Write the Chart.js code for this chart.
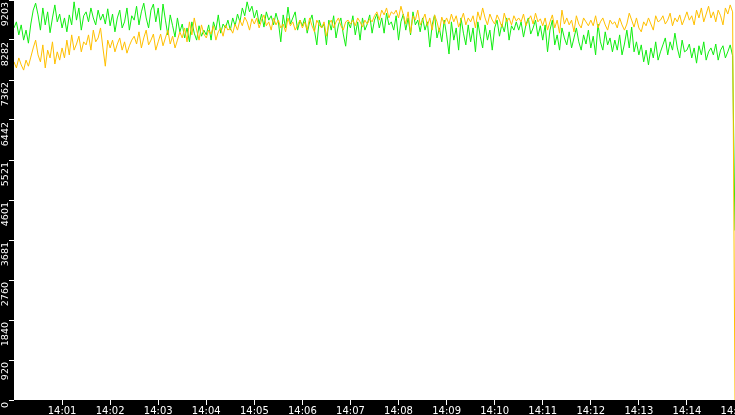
<!DOCTYPE html>
<html>
<head>
<meta charset="utf-8">
<script src="https://cdn.jsdelivr.net/npm/chart.js@4.4.1/dist/chart.umd.min.js"></script>
<style>
  html, body { margin: 0; padding: 0; background: #000; }
  #wrap { width: 735px; height: 415px; }
  canvas { display: block; background: #000; }
</style>
</head>
<body>
<div id="wrap"><canvas id="c" width="735" height="415"></canvas></div>
<script>
// ---- data ----
const sampleStepSeconds = 3;            // one sample every 3 s, starting 14:00:00

const greenValues = [
  8560, 8700, 8400, 8630, 8280, 8510, 8210, 8650, 8970, 9130,
  8860, 8510, 9020, 8630, 8930, 8450, 8790, 9090, 8700, 8880,
  8560, 8790, 8470, 8860, 8630, 9160, 8740, 9020, 8510, 8840,
  8930, 8700, 9020, 8790, 8630, 8970, 8740, 8880, 8650, 9000,
  8610, 8880, 8470, 8790, 8970, 8560, 8700, 9020, 8510, 8840,
  8740, 9060, 8630, 8930, 9130, 8790, 8560, 8970, 9110, 8700,
  9020, 8510, 9110, 8740, 8400, 8860, 8610, 8350, 8790, 8470,
  8650, 8330, 8560, 8240, 8700, 8440, 8280, 8610, 8370, 8510,
  8400, 8630, 8280, 8700, 8510, 8860, 8440, 8650, 8560, 8740,
  8510, 8790, 8610, 8880, 8700, 9020, 8840, 9160, 8930, 9060,
  8790, 8970, 8650, 8880, 8580, 8930, 8740, 8840, 8630, 8900,
  8700, 8240, 8860, 8560, 9040, 8650, 8790, 8930, 8510, 8740,
  8610, 8790, 8440, 8700, 8860, 8510, 8170, 8740, 8560, 8650,
  8170, 8740, 8510, 8840, 8330, 8630, 8790, 8420, 8140, 8700,
  8560, 8840, 8400, 8700, 8280, 8790, 8510, 8650, 8860, 8440,
  8740, 8880, 8560, 8790, 8440, 8900, 8630, 8700, 8510, 8840,
  8280, 8700, 8880, 8510, 8790, 8400, 8930, 8630, 8740, 8470,
  8790, 8510, 8700, 8120, 8630, 8860, 8330, 8560, 8240, 8740,
  8400, 7960, 8700, 8280, 8560, 8050, 8790, 8440, 8170, 8630,
  8240, 8560, 8010, 8700, 8370, 8100, 8630, 8280, 8510, 8050,
  8560, 8740, 8370, 8650, 8470, 8790, 8280, 8610, 8510, 8700,
  8510, 8700, 8350, 8630, 8790, 8420, 8560, 8740, 8370, 8610,
  8280, 8630, 8010, 8510, 8740, 8170, 8400, 8050, 8560, 8330,
  8170, 8470, 8100, 8330, 8560, 8240, 8050, 8400, 8190, 8510,
  8100, 8370, 7940, 8650, 8240, 8050, 8470, 8170, 8330, 8010,
  8280, 8050, 8400, 7940, 8190, 8510, 8100, 8580, 8010, 8240,
  7940, 8170, 7780, 8050, 7710, 8100, 7870, 8240, 7820, 8010,
  8170, 8330, 7940, 8240, 8050, 8440, 8100, 7870, 8280, 8010,
  8050, 8190, 7870, 8100, 7750, 8150, 7940, 8240, 7820, 8010,
  8100, 7940, 8190, 7820, 8050, 8150, 7870, 8010, 8170, 7920,
  3900
];

const orangeValues = [
  7780, 7640, 7870, 7710, 7590, 7820, 7680, 7890, 8100, 8280,
  7940, 7780, 8170, 7640, 8050, 7870, 8240, 7730, 8010, 7820,
  8100, 7870, 8280, 7940, 8400, 8050, 8190, 8370, 8010, 8240,
  8170, 8400, 8050, 8510, 8240, 8330, 8560, 8100, 7680, 8280,
  8100, 8280, 8010, 8190, 8330, 8050, 8240, 7980, 8150, 8280,
  8370, 8190, 8470, 8100, 8330, 8510, 8170, 8280, 8420, 8050,
  8240, 8420, 8150, 8330, 8510, 8190, 8370, 8100, 8280, 8470,
  8330, 8560, 8240, 8700, 8400, 8790, 8510, 8280, 8630, 8420,
  8330, 8510, 8420, 8610, 8280, 8470, 8560, 8370, 8630, 8510,
  8560, 8440, 8650, 8510, 8740, 8610, 8810, 8700, 8510, 8770,
  8650, 8790, 8560, 8740, 8860, 8610, 8700, 8510, 8790, 8630,
  8740, 8560, 8650, 8470, 8790, 8610, 8700, 8510, 8630, 8740,
  8560, 8700, 8510, 8790, 8610, 8470, 8740, 8630, 8560, 8700,
  8370, 8650, 8740, 8560, 8700, 8790, 8610, 8510, 8700, 8740,
  8650, 8740, 8610, 8790, 8700, 8580, 8740, 8650, 8770, 8700,
  8840, 8930, 8740, 8970, 8860, 9020, 8790, 8930, 8880, 8970,
  8790, 9060, 8860, 8650, 8930, 8440, 8840, 8740, 8970, 8630,
  8740, 8880, 8610, 8790, 8510, 8860, 8700, 8470, 8810, 8650,
  8790, 8650, 8880, 8700, 8840, 8580, 8740, 8900, 8630, 8790,
  8700, 8840, 8560, 8930, 8740, 9020, 8790, 8630, 8880, 8740,
  8650, 8860, 8740, 8580, 8900, 8700, 8790, 8630, 8840, 8720,
  8790, 8700, 8880, 8610, 8740, 8840, 8650, 8900, 8700, 8770,
  8610, 8790, 8510, 8700, 8860, 8560, 8740, 8440, 8970, 8650,
  8790, 8630, 8740, 8470, 8840, 8650, 8560, 8790, 8700, 8610,
  8740, 8610, 8840, 8560, 8700, 8790, 8630, 8510, 8740, 8650,
  8700, 8560, 8790, 8630, 8510, 8650, 8900, 8740, 8580, 8790,
  8560, 8470, 8700, 8610, 8790, 8650, 8510, 8840, 8700, 8740,
  8840, 8650, 8740, 8900, 8610, 8790, 8700, 8860, 8630, 8770,
  8930, 8740, 8840, 8630, 8970, 8790, 9020, 8700, 8880, 9060,
  8790, 8930, 8700, 8970, 8840, 8630, 9020, 8880, 9090, 8930,
  0
];

const yTickValues = [0, 920.3, 1840.6, 2760.9, 3681.2, 4601.5, 5521.8, 6442.1, 7362.4, 8282.7, 9203];
const yTickLabels = ['0', '920', '1840', '2760', '3681', '4601', '5521', '6442', '7362', '8282', '9203'];
const xTickSeconds = [60, 120, 180, 240, 300, 360, 420, 480, 540, 600, 660, 720, 780, 840, 900];
const xTickLabels = ['14:01', '14:02', '14:03', '14:04', '14:05', '14:06', '14:07', '14:08',
                     '14:09', '14:10', '14:11', '14:12', '14:13', '14:14', '14:15'];
const yMax = 9203;
const xMax = 900;

// ---- chart ----
const toPoints = arr => arr.map((v, i) => ({ x: i * sampleStepSeconds, y: v }));

const plotBg = {
  id: 'plotBg',
  beforeDatasetsDraw(chart) {
    const a = chart.chartArea, ctx = chart.ctx;
    ctx.save();
    ctx.fillStyle = '#ffffff';
    ctx.fillRect(a.left, a.top, a.right - a.left, a.bottom - a.top);
    ctx.restore();
  }
};

Chart.defaults.font.family = "'DejaVu Sans', Verdana, sans-serif";
Chart.defaults.font.size = 10;

new Chart(document.getElementById('c'), {
  type: 'line',
  data: {
    datasets: [
      { data: toPoints(orangeValues), borderColor: '#ffc000', borderWidth: 1, pointRadius: 0, tension: 0, fill: false },
      { data: toPoints(greenValues), borderColor: '#10ee10', borderWidth: 1, pointRadius: 0, tension: 0, fill: false }
    ]
  },
  options: {
    responsive: false,
    animation: false,
    devicePixelRatio: 1,
    layout: { padding: 0 },
    plugins: { legend: { display: false }, tooltip: { enabled: false } },
    scales: {
      x: {
        type: 'linear', min: 0, max: xMax,
        afterBuildTicks(s) { s.ticks = xTickSeconds.map(v => ({ value: v })); },
        afterFit(s) { s.height = 15; s.paddingLeft = 0; s.paddingRight = 0; },
        ticks: {
          color: '#ffffff', padding: 0, autoSkip: false, maxRotation: 0, minRotation: 0,
          callback: (v, i) => xTickLabels[i]
        },
        grid: { display: true, drawOnChartArea: false, drawTicks: true, tickLength: 5, tickColor: '#ffffff', color: '#ffffff' },
        border: { display: false }
      },
      y: {
        type: 'linear', min: 0, max: yMax,
        afterBuildTicks(s) { s.ticks = yTickValues.map(v => ({ value: v })); },
        afterFit(s) { s.width = 14; s.paddingTop = 0; s.paddingBottom = 0; },
        ticks: {
          color: '#ffffff', padding: 3, autoSkip: false, minRotation: 90, maxRotation: 90,
          labelOffset: 2, font: { size: 9.5 },
          callback: (v, i) => yTickLabels[i]
        },
        grid: { display: true, drawOnChartArea: false, drawTicks: true, tickLength: 5, tickColor: '#ffffff', color: '#ffffff' },
        border: { display: false }
      }
    }
  },
  plugins: [plotBg]
});
</script>
</body>
</html>
